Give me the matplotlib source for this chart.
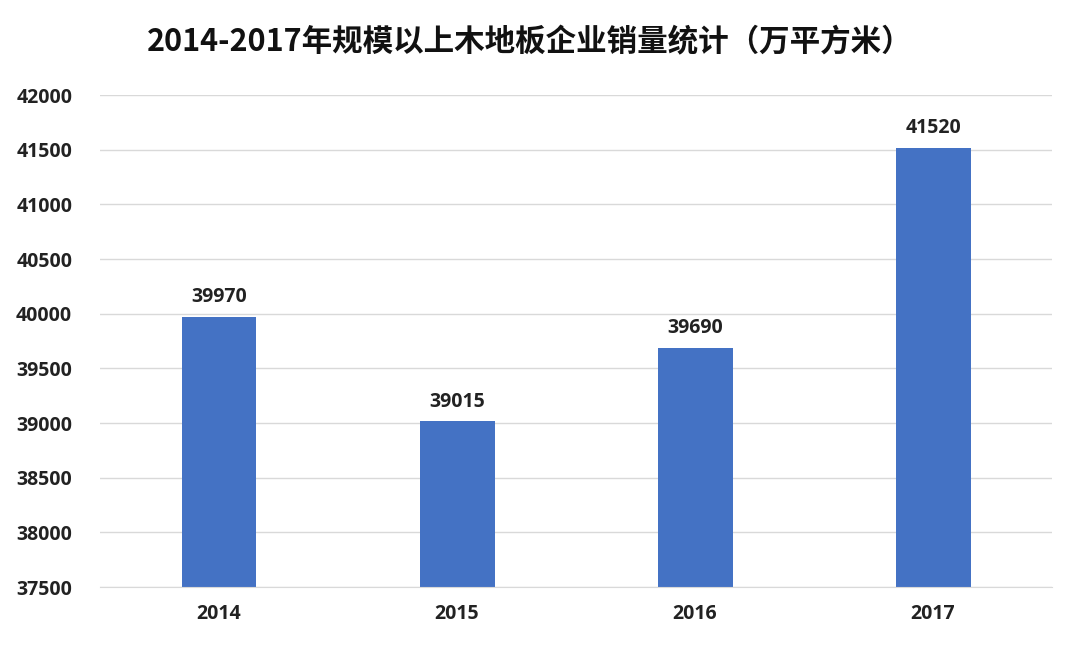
import matplotlib.pyplot as plt

plt.rcParams['font.family'] = ['Noto Sans CJK SC', 'DejaVu Sans']

years = ['2014', '2015', '2016', '2017']
sales = [39970, 39015, 39690, 41520]

fig = plt.figure(figsize=(10.8, 6.49), dpi=100)
ax = fig.add_axes([0.0926, 0.0955, 0.8815, 0.758])

x = range(len(years))
ax.bar(x, sales, width=0.315, color='#4472C4', zorder=2)
for xi, v in zip(x, sales):
    ax.text(xi, v + 90, str(v), ha='center', va='bottom', fontsize=14, fontweight='bold',
            color='#222222', family=['Open Sans', 'DejaVu Sans'])

ax.set_ylim(37500, 42000)
ax.set_xlim(-0.5, 3.5)
ax.set_yticks(range(37500, 42001, 500))
ax.set_xticks(list(x))
ax.set_xticklabels(years)
ax.yaxis.grid(True, color='#d9d9d9', linewidth=1, zorder=0)
for s in ['top', 'right', 'left']:
    ax.spines[s].set_visible(False)
ax.spines['bottom'].set_color('#d9d9d9')
ax.tick_params(length=0, labelsize=14)
ax.tick_params(axis='x', pad=12)
ax.tick_params(axis='y', pad=20)
for lbl in ax.get_xticklabels() + ax.get_yticklabels():
    lbl.set_fontweight('bold')
    lbl.set_color('#222222')
    lbl.set_family(['Open Sans', 'DejaVu Sans'])

fig.text(0.49, 0.935, '2014-2017年规模以上木地板企业销量统计（万平方米）', ha='center', va='center',
         fontsize=22, fontweight='bold', color='#111111')

fig.savefig('out.png', dpi=100)
